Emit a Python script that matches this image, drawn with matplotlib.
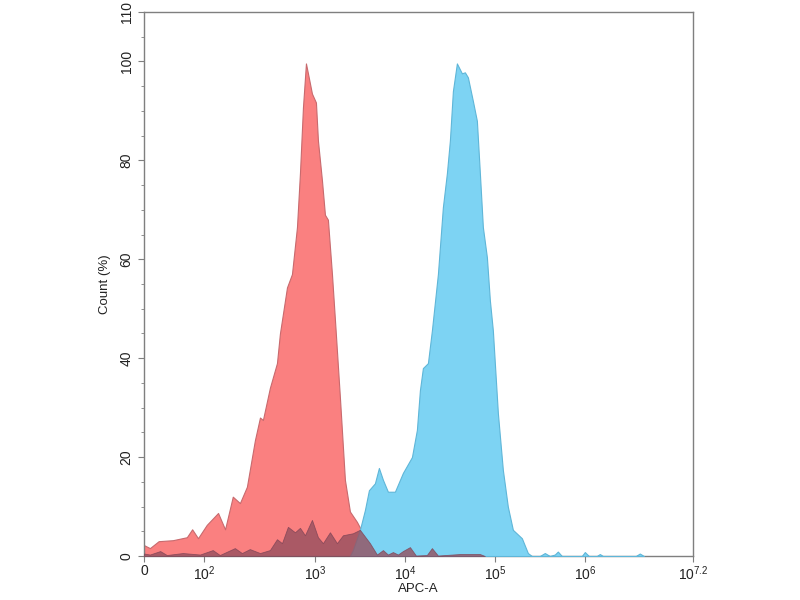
import numpy as np
import matplotlib
matplotlib.use("Agg")
import matplotlib.pyplot as plt
from matplotlib.ticker import FixedLocator, MultipleLocator

plt.rcParams['font.family'] = ['Liberation Sans', 'DejaVu Sans']
plt.rcParams['mathtext.fontset'] = 'custom'
plt.rcParams['mathtext.rm'] = 'Liberation Sans'
plt.rcParams['mathtext.it'] = 'Liberation Sans:italic'
plt.rcParams['mathtext.bf'] = 'Liberation Sans:bold'

# APC-A intensity and Count (%)
red_x = [0, 3, 8, 20, 42, 55, 74, 106, 134, 155, 182, 211, 244, 288, 320, 340,
         393, 455, 484, 560, 621, 689, 733, 780, 830, 865, 940, 1026, 1080,
         1196, 1292, 1394, 1546, 1700, 1896, 2154, 2448, 2929, 3415, 4084, 4762]
red_y = [2.2, 1.6, 3.0, 3.2, 3.8, 5.4, 3.6, 6.3, 8.7, 5.4, 12, 10.7, 14, 23.4,
         28, 27.5, 34, 39, 45, 54.3, 57, 66.5, 77.4, 90.7, 99.6, 97.6, 93.5,
         91.7, 84, 76, 69, 68, 57, 45.5, 32, 15.4, 9, 6.9, 4.6, 1.8, 0]

blue_x = [2448, 2642, 3162, 3594, 3981, 4642, 5140, 5700, 6470, 7743, 9500,
          11970, 13590, 14680, 15850, 18020, 19950, 23270, 26420, 29290, 31620,
          34150, 37830, 42990, 46420, 50120, 56980, 63100, 68130, 73560, 81540,
          88000, 95000, 108000, 122700, 139300, 158500, 199500, 232600, 257600,
          316000, 359000, 408000, 464000, 501000, 555000, 926000, 1.0e6,
          1.107e6, 1.359e6, 1.468e6, 1.585e6, 3.69e6, 4.08e6, 4.53e6]
blue_y = [0, 1.2, 5.3, 9.3, 13.3, 14.7, 17.8, 15.4, 13, 13, 16.8, 20, 25.5,
          33.5, 38, 39, 45.6, 57, 70.5, 77.4, 84, 94, 99.6, 97.6, 97.8, 96.8,
          92, 88, 77.4, 66.5, 60.4, 51.7, 45.6, 28.9, 17.4, 10, 5.3, 3.6, 0.6,
          0, 0, 0.6, 0, 0.3, 0.9, 0, 0, 0.8, 0, 0, 0.4, 0, 0, 0.5, 0]

dark_x = [0, 3, 9, 14, 34, 82, 120, 139, 190, 220, 259, 320, 393, 455, 505,
          571, 661, 733, 813, 940, 1080, 1227, 1468, 1755, 2047, 2642, 3162,
          4084, 4887, 5700, 6470, 7356, 8360, 9500, 11370, 13250, 17540, 19950,
          23270, 40800, 68130, 77400]
dark_y = [0.5, 0.3, 1.0, 0.2, 0.6, 0.3, 1.2, 0.2, 1.6, 0.6, 1.4, 0.6, 1.2,
          3.4, 2.6, 5.9, 4.8, 5.7, 4.2, 7.3, 3.8, 2.6, 4.8, 2.6, 4.2, 4.6, 5.3,
          2.6, 0.3, 1.2, 0.3, 0.8, 0.3, 1.0, 1.8, 0.1, 0.2, 1.6, 0.1, 0.4, 0.4, 0]

x_ticks = [0, 1e2, 1e3, 1e4, 1e5, 1e6, 10 ** 7.2]
x_labels = ['0', '$10^2$', '$10^3$', '$10^4$', '$10^5$', '$10^6$', '$10^{7.2}$']
y_ticks = [0, 20, 40, 60, 80, 100, 110]

# display positions of the axis anchors (biexponential-like scale)
anchor_pos = [0, 60, 171, 261, 351, 441, 549]
anchor_t = np.arcsinh(np.array(x_ticks) / 10.0)


def fwd(x):
	return np.interp(np.arcsinh(np.asarray(x) / 10.0), anchor_t, anchor_pos)


def inv(p):
	return 10.0 * np.sinh(np.interp(np.asarray(p), anchor_pos, anchor_t))


fig = plt.figure(figsize=(8, 6), dpi=100)
ax = fig.add_axes([0.18, 0.0733, 0.686, 0.9067])
ax.set_xscale('function', functions=(fwd, inv))

ax.fill_between(red_x, red_y, 0, facecolor='#FA8080', edgecolor='#C86A6E',
	linewidth=0.8, zorder=2)
ax.fill_between(blue_x, blue_y, 0, facecolor='#7DD3F3', edgecolor='#5FB6D8',
	linewidth=0.8, zorder=3)
ax.fill_between(dark_x, dark_y, 0, facecolor='#96505F', edgecolor='#7E4456',
	linewidth=0.6, alpha=0.8, zorder=4)

ax.set_xlim(0, 10 ** 7.2)
ax.set_ylim(0, 110)
ax.xaxis.set_major_locator(FixedLocator(x_ticks))
ax.set_xticklabels(x_labels)
ax.set_yticks(y_ticks)
ax.yaxis.set_minor_locator(MultipleLocator(5))
for lab in ax.get_yticklabels():
	lab.set_rotation(90)
	lab.set_va('center')

for s in ax.spines.values():
	s.set_color('#7F7F7F')
	s.set_linewidth(1.0)
ax.tick_params(axis='both', which='both', colors='#7F7F7F', labelcolor='#222222',
	labelsize=10, direction='out')
ax.tick_params(axis='both', which='major', length=4)
ax.tick_params(axis='x', which='major', pad=2)
ax.tick_params(axis='y', which='minor', length=2)

ax.set_xlabel('APC-A', fontsize=9.5, color='#222222', labelpad=0)
ax.set_ylabel('Count (%)', fontsize=9.5, color='#222222', labelpad=6)

fig.savefig('out.png', dpi=100)
